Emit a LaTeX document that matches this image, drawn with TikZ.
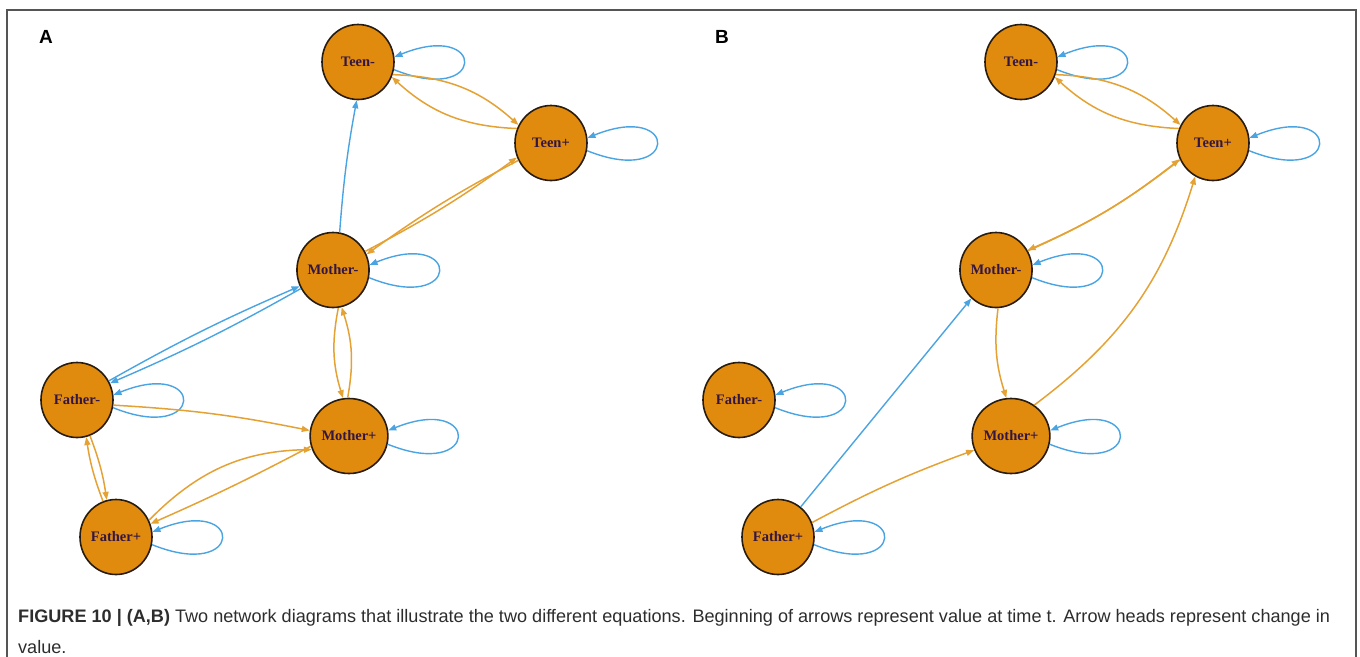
\documentclass[tikz,border=0pt]{standalone}
\usepackage{fontspec}
\setmainfont{Liberation Serif}
\newfontfamily\capfont{Liberation Sans}
\usetikzlibrary{shapes.geometric,arrows.meta}
\definecolor{nodefill}{RGB}{224,139,14}
\definecolor{nodeline}{RGB}{40,28,16}
\definecolor{nodetext}{RGB}{52,22,66}
\definecolor{edgeorange}{RGB}{228,162,52}
\definecolor{edgeblue}{RGB}{74,164,226}
\definecolor{framegray}{RGB}{85,85,85}
\definecolor{captext}{RGB}{45,45,45}
\tikzset{
  nd/.style={ellipse, draw=nodeline, line width=1.6pt, fill=nodefill,
    minimum width=72pt, minimum height=75pt, inner sep=0pt,
    text=nodetext, font=\fontsize{14.5}{16}\selectfont\bfseries},
  oe/.style={draw=edgeorange, line width=1.5pt, -{Triangle[length=8pt,width=6pt]}},
  be/.style={draw=edgeblue, line width=1.4pt, -{Triangle[length=8pt,width=6pt]}},
  sl/.style={be, out=-22, in=22, min distance=100pt},
  panel/.style={font=\capfont\fontsize{19}{21}\selectfont\bfseries, text=black},
}
\begin{document}
\begin{tikzpicture}[x=1pt,y=1pt]
\useasboundingbox (0,0) rectangle (1360,-656);
% frame
\draw[framegray, line width=1.5pt] (7,-660) -- (7,-10) -- (1356,-10) -- (1356,-660);
% panel labels
\node[panel] (la) at (46,-37) {A};
\node[panel] (lb) at (722,-37) {B};
% ---------- Panel A ----------
\node[nd] (tm) at (358,-62) {Teen-};
\node[nd] (tp) at (551,-143) {Teen+};
\node[nd] (mm) at (333,-270) {Mother-};
\node[nd] (fm) at (77,-400) {Father-};
\node[nd] (mp) at (349,-436) {Mother+};
\node[nd] (fp) at (116,-537) {Father+};
\foreach \n in {tm,tp,mm,fm,mp,fp} {\draw[sl] (\n.-12) to (\n.8);}
\draw[be] (mm.80) to[bend left=3] (tm.-92);
\draw[oe] (tm.-20) to[bend left=20] (tp.151);
\draw[oe] (tp.157) to[bend left=20] (tm.-24);
\draw[oe] (mm.30) to[bend right=4] (tp.203);
\draw[oe] (tp.208) to[bend right=4] (mm.25);
\draw[be] (fm.31) to[bend left=3] (mm.206);
\draw[be] (mm.210) to[bend left=3] (fm.27);
\draw[oe] (mm.-82) to[bend right=14] (mp.99);
\draw[oe] (mp.92) to[bend right=14] (mm.-77);
\draw[oe] (fm.-8) to[bend left=4] (mp.172);
\draw[oe] (fm.-70) to[bend left=6] (fp.104);
\draw[oe] (fp.110) to[bend left=6] (fm.-76);
\draw[oe] (fp.27) to[bend left=22] (mp.200);
\draw[oe] (mp.195) to[bend left=2] (fp.21);
% ---------- Panel B ----------
\node[nd] (tm2) at (1021,-62) {Teen-};
\node[nd] (tp2) at (1213,-143) {Teen+};
\node[nd] (mm2) at (996,-270) {Mother-};
\node[nd] (fm2) at (739,-400) {Father-};
\node[nd] (mp2) at (1011,-436) {Mother+};
\node[nd] (fp2) at (778,-537) {Father+};
\foreach \n in {tm2,tp2,mm2,fm2,mp2,fp2} {\draw[sl] (\n.-12) to (\n.8);}
\draw[oe] (tm2.-20) to[bend left=20] (tp2.151);
\draw[oe] (tp2.157) to[bend left=20] (tm2.-24);
\draw[oe] (mm2.31) to[bend right=7] (tp2.206);
\draw[oe] (tp2.207) to[bend left=7] (mm2.32);
\draw[oe] (mm2.-87) to[bend right=12] (mp2.97);
\draw[oe] (mp2.53) to[bend right=18] (tp2.-118);
\draw[be] (fp2.53) -- (mm2.229);
\draw[oe] (fp2.23) to[bend left=4] (mp2.201);
% caption
\node[anchor=base west, inner sep=0pt, text=captext,
  font=\capfont\fontsize{18.1}{21}\selectfont] (cap1) at (18,-622)
  {\textbf{FIGURE 10 | (A,B)} Two network diagrams that illustrate the two different equations. Beginning of arrows represent value at time t. Arrow heads represent change in};
\node[anchor=base west, inner sep=0pt, text=captext,
  font=\capfont\fontsize{18.1}{21}\selectfont] (cap2) at (18,-653) {value.};
\end{tikzpicture}
\end{document}
